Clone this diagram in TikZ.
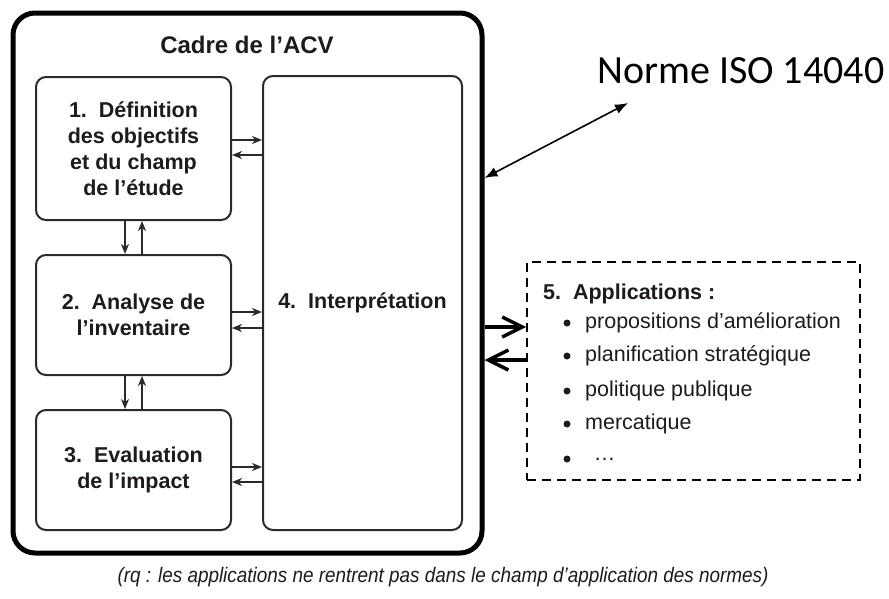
\documentclass[tikz,border=0pt]{standalone}
\usepackage{fontspec}
\setmainfont{Liberation Sans}
\newfontfamily\normefont{Carlito}
\usetikzlibrary{arrows.meta}
\definecolor{ink}{HTML}{1E1B18}
\definecolor{frame}{HTML}{2A2A2A}
\tikzset{
  stagebox/.style={draw=frame, line width=2pt, rounded corners=10pt, align=center,
    text=ink, font=\bfseries\fontsize{21.5}{26}\selectfont, inner sep=0pt},
  flow/.style={draw=frame, line width=1.6pt, -{Stealth[length=10pt,width=8pt,inset=3pt]}},
  bigflow/.style={line width=4pt, -{Straight Barb[length=20pt,width=20pt,line width=3.5pt]}},
  listitem/.style={anchor=west, text=ink, font=\fontsize{21.5}{24}\selectfont, inner sep=0pt},
  dot/.style={circle, fill=ink, inner sep=0pt, minimum size=7pt},
}
\newcommand\suite{\hspace{0.4em}\ldots}
\begin{document}
\begin{tikzpicture}[x=1pt, y=-1pt]
\path[use as bounding box, fill=white] (0,0) rectangle (889,598);

% life-cycle assessment frame
\node[draw=black, line width=5pt, rounded corners=22pt, minimum width=469pt,
      minimum height=540pt, inner sep=0pt] (cadre) at (247.5,283) {};
\node[text=ink, font=\bfseries\fontsize{24}{26}\selectfont] (titre) at (247,45) {Cadre de l’ACV};

% the four phases
\node[stagebox, minimum width=195pt, minimum height=143pt] (b1) at (133.5,148.5)
  {1.\ \ Définition\\des objectifs\\et du champ\\de l’étude};
\node[stagebox, minimum width=195pt, minimum height=120pt] (b2) at (133.5,315)
  {2.\ \ Analyse de\\l’inventaire};
\node[stagebox, minimum width=195pt, minimum height=120pt] (b3) at (133.5,470)
  {3.\ \ Evaluation\\de l’impact};
\node[stagebox, minimum width=199pt, minimum height=454pt] (b4) at (362.5,303)
  {4.\ \ Interprétation};

% exchanges between phases
\draw[flow] (b1.east|-0,140) -- (b4.west|-0,140);
\draw[flow] (b4.west|-0,155) -- (b1.east|-0,155);
\draw[flow] (b2.east|-0,312) -- (b4.west|-0,312);
\draw[flow] (b4.west|-0,328) -- (b2.east|-0,328);
\draw[flow] (b3.east|-0,467) -- (b4.west|-0,467);
\draw[flow] (b4.west|-0,482) -- (b3.east|-0,482);
\draw[flow] (b1.south-|125,0) -- (b2.north-|125,0);
\draw[flow] (b2.north-|142,0) -- (b1.south-|142,0);
\draw[flow] (b2.south-|125,0) -- (b3.north-|125,0);
\draw[flow] (b3.north-|142,0) -- (b2.south-|142,0);

% standard reference
\node[font=\normefont\fontsize{40}{44}\selectfont, text=black, anchor=base west, inner sep=0pt]
  (norme) at (597,83) {Norme ISO 14040};
\coordinate (normepied) at ([shift={(31,20)}]norme.base west);
\draw[line width=1.6pt, {Latex[length=13pt,width=10pt]}-{Latex[length=13pt,width=10pt]}]
  (cadre.east|-0,178) -- (normepied);

% applications
\node[draw=black, line width=1.8pt, dash pattern=on 9pt off 6pt, minimum width=333pt,
      minimum height=218pt, inner sep=0pt] (apps) at (693.5,371) {};
\node[listitem, font=\bfseries\fontsize{21.5}{24}\selectfont] (appt) at (543,294) {5.\ \ Applications :};
\foreach \y/\t [count=\i] in {323/{propositions d’amélioration}, 356/{planification stratégique},
    391/{politique publique}, 424/{mercatique}, 459/{\suite}}{
  \node[dot] (d\i) at (567,\y) {};
  \node[listitem] (l\i) at (585,\y) {\t};
}
\draw[bigflow] (cadre.east|-0,327) -- (apps.west|-0,327);
\draw[bigflow] (apps.west|-0,360) -- (cadre.east|-0,360);

% footnote
\node[text=ink, font=\itshape\fontsize{21}{24}\selectfont, xscale=0.9] (note) at (443,577)
  {(rq : les applications ne rentrent pas dans le champ d’application des normes)};
\end{tikzpicture}
\end{document}
